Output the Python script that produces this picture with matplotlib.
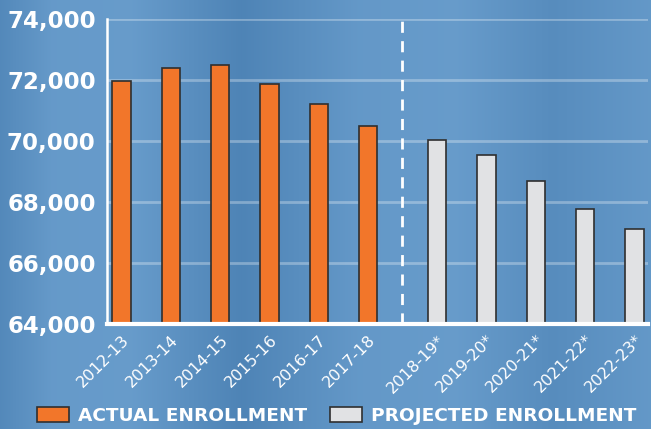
import matplotlib
matplotlib.use("Agg")
import matplotlib.pyplot as plt
import matplotlib.patches as mpatches
import numpy as np

# Enrollment data
actual_years = ["2012-13", "2013-14", "2014-15", "2015-16", "2016-17", "2017-18"]
actual_values = [71970, 72390, 72490, 71870, 71210, 70490]
projected_years = ["2018-19*", "2019-20*", "2020-21*", "2021-22*", "2022-23*"]
projected_values = [70020, 69540, 68700, 67760, 67110]
y_ticks = [64000, 66000, 68000, 70000, 72000, 74000]

ORANGE = "#f2762a"
GREY = "#e1e2e4"
EDGE = "#2f2f2f"

fig = plt.figure(figsize=(6.51, 4.29), dpi=100)

# blue, softly banded background
bg_ax = fig.add_axes([0, 0, 1, 1], zorder=-10)
xs = np.linspace(0, 1, 400)
stops_x = [0.0, 0.08, 0.2, 0.37, 0.55, 0.7, 0.85, 1.0]
stops_v = [0.35, 0.85, 0.9, 0.2, 0.8, 0.9, 0.45, 0.8]
band = np.interp(xs, stops_x, stops_v)
dark = np.array([0x47, 0x7d, 0xb0]) / 255
light = np.array([0x6b, 0x9f, 0xce]) / 255
img = dark[None, :] + band[:, None] * (light - dark)[None, :]
bg_ax.imshow(img[None, :, :], aspect="auto", extent=[0, 1, 0, 1])
bg_ax.set_axis_off()

ax = fig.add_axes([0.164, 0.245, 0.831, 0.711])
ax.patch.set_alpha(0)

gap = 0.4
x_actual = np.arange(len(actual_years))
x_proj = np.arange(len(projected_years)) + len(actual_years) + gap
width = 0.37

ax.bar(x_actual, actual_values, width=width, color=ORANGE, edgecolor=EDGE,
       linewidth=1.2, zorder=3)
ax.bar(x_proj, projected_values, width=width, color=GREY, edgecolor=EDGE,
       linewidth=1.2, zorder=3)

# divider between actual and projected
ax.axvline(len(actual_years) - 1 + (1 + gap) / 2 - 0.01, color="white",
           linestyle=(0, (4, 3)), linewidth=2, zorder=2)

ax.set_ylim(y_ticks[0], y_ticks[-1])
ax.set_xlim(-0.3, x_proj[-1] + 0.27)
ax.set_yticks(y_ticks)
ax.set_yticklabels([f"{v:,}" for v in y_ticks], color="white",
                   fontsize=16.5, fontweight="bold")
ax.set_xticks(list(x_actual) + list(x_proj))
ax.set_xticklabels(actual_years + projected_years, rotation=45, ha="right",
                   rotation_mode="anchor", color="white", fontsize=11.5)
ax.tick_params(axis="both", length=0)
ax.tick_params(axis="y", pad=8)
ax.tick_params(axis="x", pad=6)

ax.grid(axis="y", color="white", alpha=0.3, linewidth=2, zorder=1)
for side in ["top", "right"]:
    ax.spines[side].set_visible(False)
ax.spines["left"].set_color("white")
ax.spines["left"].set_linewidth(1.8)
ax.spines["bottom"].set_color("white")
ax.spines["bottom"].set_linewidth(3)
ax.spines["bottom"].set_zorder(4)

handles = [
    mpatches.Patch(facecolor=ORANGE, edgecolor=EDGE, linewidth=1.2,
                   label="ACTUAL ENROLLMENT"),
    mpatches.Patch(facecolor=GREY, edgecolor=EDGE, linewidth=1.2,
                   label="PROJECTED ENROLLMENT"),
]
leg = fig.legend(handles=handles, loc="lower center", bbox_to_anchor=(0.517, -0.03),
                 ncol=2, frameon=False, handlelength=1.75, handleheight=0.85,
                 columnspacing=1.2, handletextpad=0.5,
                 prop={"weight": "bold", "size": 13.3})
for t in leg.get_texts():
    t.set_color("white")

fig.savefig("out.png", dpi=100)
